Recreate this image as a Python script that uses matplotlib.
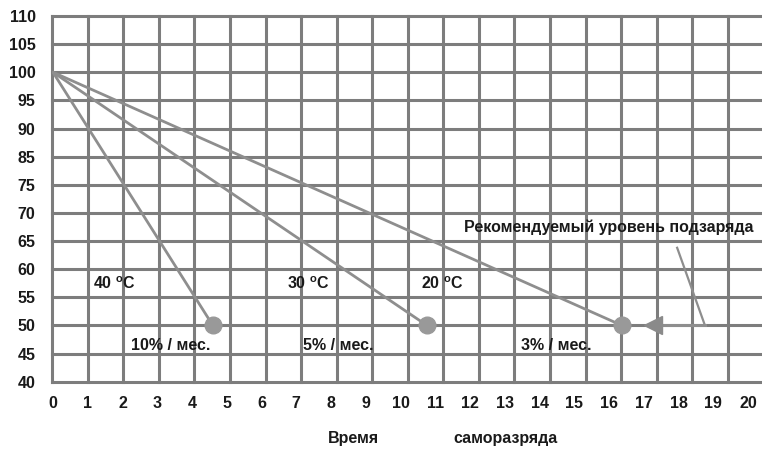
import numpy as np
import matplotlib.pyplot as plt

# y axis labels as printed (note: the original skips 80)
y_labels = ['40', '45', '50', '55', '60', '65', '70', '75', '85', '90', '95', '100', '105', '110']
x_labels = [str(i) for i in range(21)]

# self-discharge lines: start (0, 100 %) -> end at 50 %
temps = ['40 $^{\\mathregular{o}}$C', '30 $^{\\mathregular{o}}$C', '20 $^{\\mathregular{o}}$C']
rates = ['10% / мес.', '5% / мес.', '3% / мес.']
end_time = [4.6, 10.76, 16.37]
start_level = '100'
end_level = '50'

# recommended recharge marker
recharge_label = 'Рекомендуемый уровень подзаряда'
arrow_from = 18.76
arrow_to = 17.04
slant_x = [17.96, 18.76]
slant_y = [63.8, 50]

plt.rcParams['font.family'] = ['Liberation Sans', 'DejaVu Sans']
plt.rcParams['font.weight'] = 'bold'
plt.rcParams['mathtext.default'] = 'regular'


def yidx(v):
    # map a printed value to its grid row
    vals = [float(s) for s in y_labels]
    return np.interp(v, vals, np.arange(len(vals)))


fig = plt.figure(figsize=(7.62, 4.49), dpi=100)
ax = fig.add_axes([0.0686, 0.1499, 0.9327, 0.8145])
ax.set_xlim(-0.02, 20.43)
ax.set_ylim(0, len(y_labels) - 1)
for s in ax.spines.values():
    s.set_visible(False)

grid_c = '#7d7d7d'
grid_step = 35.55 / 34.75
for k in range(21):
    ax.axvline(k * grid_step - 0.02, color=grid_c, lw=2.2, clip_on=False, zorder=1)
for k in range(len(y_labels)):
    ax.axhline(k, color=grid_c, lw=2.2, clip_on=False, zorder=1)

tick_c = '#1a1a1a'
ax.set_yticks(range(len(y_labels)))
ax.set_yticklabels(y_labels, fontsize=11.5, color=tick_c)
ax.set_xticks(range(21))
ax.set_xticklabels(x_labels, fontsize=11.5, color=tick_c)
ax.tick_params(length=0, pad=10)
ax.tick_params(axis='y', pad=12)

line_c = '#8e8e8e'
y0 = yidx(float(start_level))
y1 = yidx(float(end_level))
for t in end_time:
    ax.plot([0, t], [y0, y1], color=line_c, lw=2, zorder=2, solid_capstyle='round')
    ax.plot(t, y1, 'o', color='#999999', ms=12, zorder=3)

# arrow toward the 3% point
ax.plot([arrow_from, arrow_to + 0.3], [y1, y1], color=line_c, lw=2.2, zorder=2)
ax.plot(arrow_to + 0.22, y1, marker='<', color='#8a8a8a', ms=13, zorder=3)
ax.plot(slant_x, [yidx(v) for v in slant_y], color=line_c, lw=1.6, zorder=2)

txt = dict(fontsize=11.5, ha='center', va='center', color=tick_c)
temp_x = [1.77, 7.36, 11.21]
for x, s in zip(temp_x, temps):
    ax.text(x, yidx(57.5), s, **txt)
rate_x = [3.4, 8.2, 14.48]
for x, s in zip(rate_x, rates):
    ax.text(x, yidx(46.5), s, **txt)
ax.text(16.0, yidx(67.4), recharge_label, **txt)

fig.text(353 / 762, 1 - 438 / 449, 'Время', fontsize=11.5, ha='center', va='center', color=tick_c)
fig.text(505 / 762, 1 - 438 / 449, 'саморазряда', fontsize=11.5, ha='center', va='center', color=tick_c)

fig.savefig('out.png', dpi=100)
